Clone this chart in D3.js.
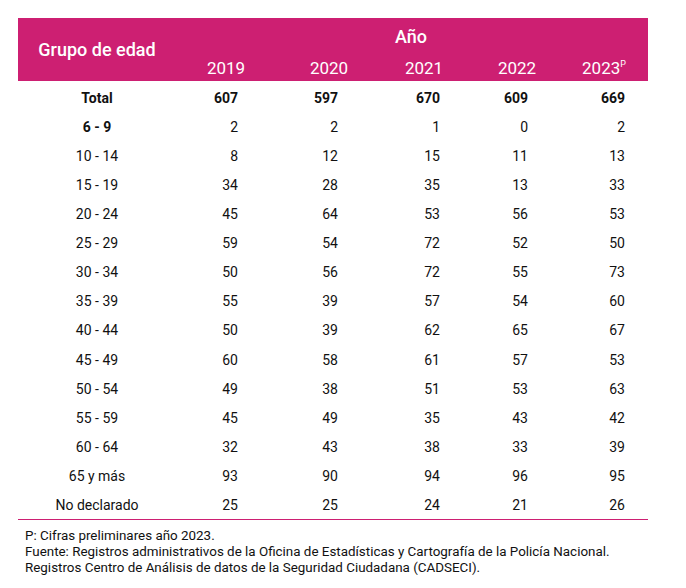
<!DOCTYPE html>
<html lang="es">
<head>
    <meta charset="UTF-8">
    <title>Grupo de edad por año</title>
    <script src="https://d3js.org/d3.v7.min.js"></script>
    <style>
        body { margin: 0; background: #fff; }
        svg text { font-family: Roboto, "Noto Sans", sans-serif; }
        .hdr { fill: #fff; font-size: 17px; }
        .cell { fill: #111; font-size: 14px; }
        .bold { font-weight: bold; }
        .note { fill: #111; font-size: 13.4px; }
    </style>
</head>
<body>
    <svg width="686" height="588"></svg>

    <script>
        const years = ["2019", "2020", "2021", "2022", "2023"];
        const groups = ["Total", "6 - 9", "10 - 14", "15 - 19", "20 - 24", "25 - 29", "30 - 34",
            "35 - 39", "40 - 44", "45 - 49", "50 - 54", "55 - 59", "60 - 64", "65 y más", "No declarado"];
        const v2019 = [607, 2, 8, 34, 45, 59, 50, 55, 50, 60, 49, 45, 32, 93, 25];
        const v2020 = [597, 2, 12, 28, 64, 54, 56, 39, 39, 58, 38, 49, 43, 90, 25];
        const v2021 = [670, 1, 15, 35, 53, 72, 72, 57, 62, 61, 51, 35, 38, 94, 24];
        const v2022 = [609, 0, 11, 13, 56, 52, 55, 54, 65, 57, 53, 43, 33, 96, 21];
        const v2023 = [669, 2, 13, 33, 53, 50, 73, 60, 67, 53, 63, 42, 39, 95, 26];
        const notes = [
            "P: Cifras preliminares año 2023.",
            "Fuente: Registros administrativos de la Oficina de Estadísticas y Cartografía de la Policía Nacional.",
            "Registros Centro de Análisis de datos de la Seguridad Ciudadana (CADSECI)."
        ];

        const series = [v2019, v2020, v2021, v2022, v2023];
        const pink = "#cd1f72";

        const svg = d3.select("svg");

        // row positions
        const y = d3.scaleBand()
            .domain(groups)
            .range([83, 520])
            .paddingInner(0)
            .paddingOuter(0.02);

        // number columns are right aligned
        const xNum = d3.scaleOrdinal().domain(years).range([238, 338, 440, 528, 625]);
        const xHead = d3.scaleOrdinal().domain(years).range([226, 329, 424, 517, 604]);
        const labelX = 97;

        // header band
        svg.append("rect")
            .attr("x", 18).attr("y", 18)
            .attr("width", 630).attr("height", 63)
            .attr("fill", pink);

        svg.append("text")
            .attr("class", "hdr")
            .attr("x", labelX).attr("y", 56)
            .attr("text-anchor", "middle")
            .style("font-size", "18px")
            .style("font-weight", 500)
            .text("Grupo de edad");

        svg.append("text")
            .attr("class", "hdr")
            .attr("x", 411).attr("y", 43)
            .attr("text-anchor", "middle")
            .style("font-size", "18px")
            .style("font-weight", 500)
            .text("Año");

        const yearText = svg.selectAll(".yr")
            .data(years)
            .enter().append("text")
            .attr("class", "hdr yr")
            .attr("x", d => xHead(d))
            .attr("y", 74)
            .attr("text-anchor", "middle")
            .text(d => d);

        yearText.filter(d => d === "2023")
            .append("tspan")
            .attr("dy", -7)
            .style("font-size", "9px")
            .text("P");

        // row labels
        svg.selectAll(".lbl")
            .data(groups)
            .enter().append("text")
            .attr("class", (d, i) => i < 2 ? "cell lbl bold" : "cell lbl")
            .attr("x", labelX)
            .attr("y", d => y(d) + y.bandwidth() / 2)
            .attr("dy", "0.35em")
            .attr("text-anchor", "middle")
            .text(d => d);

        // values
        years.forEach((yr, j) => {
            svg.selectAll(".v" + yr)
                .data(series[j])
                .enter().append("text")
                .attr("class", (d, i) => i === 0 ? "cell bold v" + yr : "cell v" + yr)
                .attr("x", xNum(yr))
                .attr("y", (d, i) => y(groups[i]) + y.bandwidth() / 2)
                .attr("dy", "0.35em")
                .attr("text-anchor", "end")
                .text(d => d);
        });

        // bottom rule
        svg.append("line")
            .attr("x1", 18).attr("x2", 648)
            .attr("y1", 519.5).attr("y2", 519.5)
            .attr("stroke", pink)
            .attr("stroke-width", 1);

        svg.selectAll(".note")
            .data(notes)
            .enter().append("text")
            .attr("class", "note")
            .attr("x", 25)
            .attr("y", (d, i) => 540 + i * 16)
            .text(d => d);
    </script>
</body>
</html>
